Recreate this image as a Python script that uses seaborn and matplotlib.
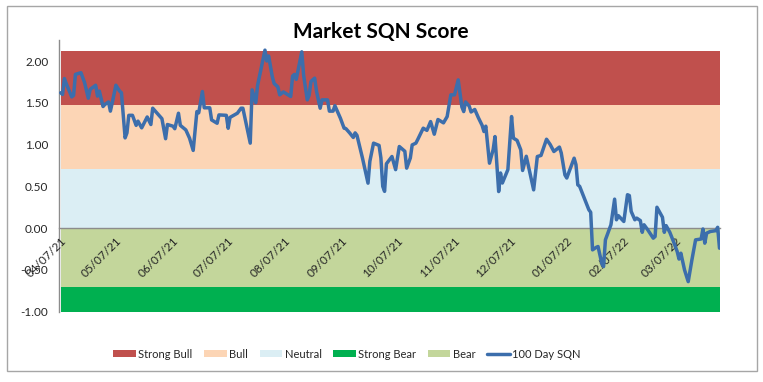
import matplotlib
matplotlib.use('Agg')
import matplotlib.pyplot as plt
import matplotlib.dates as mdates
from matplotlib.patches import Rectangle, Patch
from matplotlib.lines import Line2D
from matplotlib.ticker import FormatStrFormatter
import seaborn as sns
import pandas as pd
import numpy as np

sns.set_style('white')
plt.rcParams['font.family'] = ['Lato', 'DejaVu Sans']

# ---- data: 100 Day SQN, days of month and values per month ----
months = [(2021, 4), (2021, 5), (2021, 6), (2021, 7), (2021, 8), (2021, 9),
          (2021, 10), (2021, 11), (2021, 12), (2022, 1), (2022, 2), (2022, 3)]

days_apr21 = [7, 8, 9, 10, 13, 14, 15, 18, 20, 22, 23, 26, 27, 28, 30]
sqn_apr21 = [1.62, 1.60, 1.79, 1.73, 1.57, 1.59, 1.84, 1.86, 1.74, 1.555, 1.66, 1.71, 1.58, 1.64, 1.455]

days_may21 = [1, 3, 4, 5, 7, 9, 10, 12, 13, 14, 16, 18, 19, 21, 24, 26, 27, 30]
sqn_may21 = [1.48, 1.51, 1.40, 1.50, 1.71, 1.64, 1.62, 1.08, 1.14, 1.35, 1.35, 1.23, 1.28, 1.20, 1.33, 1.24, 1.435, 1.36]

days_jun21 = [1, 3, 4, 7, 8, 10, 11, 14, 16, 18, 20, 21, 23, 24, 27, 28]
sqn_jun21 = [1.31, 1.07, 1.24, 1.22, 1.19, 1.375, 1.23, 1.175, 1.077, 0.93, 1.395, 1.38, 1.635, 1.44, 1.44, 1.295]

days_jul21 = [1, 2, 6, 7, 8, 12, 14, 15, 19, 20, 22, 23, 27, 28, 29, 31]
sqn_jul21 = [1.255, 1.355, 1.35, 1.195, 1.325, 1.375, 1.435, 1.435, 1.017, 1.655, 1.50, 1.71, 2.13, 2.00, 2.06, 1.81]

days_aug21 = [1, 3, 4, 6, 10, 11, 12, 13, 16, 17, 19, 20, 21, 23, 24, 26, 27, 30, 31]
sqn_aug21 = [1.73, 1.69, 1.595, 1.63, 1.575, 1.82, 1.84, 1.78, 2.11, 1.83, 1.535, 1.59, 1.755, 1.795, 1.64, 1.435, 1.535, 1.535, 1.40]

days_sep21 = [2, 3, 6, 8, 9, 11, 13, 14, 15, 18, 21, 22, 24, 27, 28, 29, 30]
sqn_sep21 = [1.40, 1.465, 1.315, 1.196, 1.19, 1.14, 1.085, 1.14, 1.11, 0.837, 0.538, 0.80, 1.017, 0.99, 0.84, 0.50, 0.44]

days_oct21 = [1, 4, 6, 8, 11, 12, 14, 15, 17, 18, 21, 23, 25, 27, 29]
sqn_oct21 = [0.77, 0.857, 0.70, 0.977, 0.92, 0.718, 0.84, 0.996, 1.017, 1.06, 1.196, 1.17, 1.275, 1.124, 1.30]

days_nov21 = [1, 3, 5, 7, 9, 11, 12, 13, 15, 16, 18, 20, 22, 23, 24, 26, 28, 29]
sqn_nov21 = [1.26, 1.335, 1.595, 1.595, 1.774, 1.45, 1.395, 1.51, 1.46, 1.39, 1.42, 1.32, 1.23, 1.156, 1.22, 0.777, 0.94, 1.096]

days_dec21 = [1, 2, 3, 6, 8, 9, 11, 13, 14, 16, 20, 22, 24, 27, 29, 31]
sqn_dec21 = [0.438, 0.66, 0.54, 0.70, 1.335, 1.077, 1.05, 0.937, 0.69, 0.86, 0.458, 0.857, 0.87, 1.064, 1.00, 0.917]

days_jan22 = [3, 4, 6, 7, 11, 12, 13, 14, 19, 20, 21, 23, 24, 26, 27, 28, 31]
sqn_jan22 = [0.97, 0.90, 0.637, 0.60, 0.837, 0.76, 0.518, 0.50, 0.22, 0.19, -0.26, -0.23, -0.22, -0.42, -0.46, -0.14, 0.04]

days_feb22 = [2, 3, 4, 7, 9, 10, 11, 13, 14, 16, 17, 18, 20, 23, 24, 25, 28]
sqn_feb22 = [0.347, 0.10, 0.15, 0.08, 0.40, 0.39, 0.20, 0.10, 0.12, 0.09, -0.05, 0.04, -0.02, -0.12, -0.10, 0.25, 0.13]

days_mar22 = [1, 2, 4, 6, 8, 9, 10, 12, 14, 16, 18, 21, 22, 23, 24, 26, 29, 30, 31]
sqn_mar22 = [-0.05, 0.03, -0.05, -0.16, -0.28, -0.37, -0.30, -0.50, -0.64, -0.38, -0.14, -0.13, -0.01, -0.18, -0.06, -0.04, -0.03, 0.01, -0.24]

month_days = [days_apr21, days_may21, days_jun21, days_jul21, days_aug21, days_sep21,
              days_oct21, days_nov21, days_dec21, days_jan22, days_feb22, days_mar22]
month_sqn = [sqn_apr21, sqn_may21, sqn_jun21, sqn_jul21, sqn_aug21, sqn_sep21,
             sqn_oct21, sqn_nov21, sqn_dec21, sqn_jan22, sqn_feb22, sqn_mar22]

# ---- bands ----
band_names = ['Strong Bull', 'Bull', 'Neutral', 'Strong Bear', 'Bear']
band_low = [1.47, 0.71, 0.0, -1.0, -0.70]
band_high = [2.12, 1.47, 0.71, -0.70, 0.0]
band_colors = ['#C0504D', '#FCD5B5', '#DBEEF4', '#00B050', '#C3D69B']

line_name = '100 Day SQN'
line_color = '#3C6EAC'

tick_dates = ['2021-04-07', '2021-05-07', '2021-06-07', '2021-07-07', '2021-08-07',
              '2021-09-07', '2021-10-07', '2021-11-07', '2021-12-07', '2022-01-07',
              '2022-02-07', '2022-03-07']
y_ticks = [-1.0, -0.5, 0.0, 0.5, 1.0, 1.5, 2.0]
title = 'Market SQN Score'

# ---- build frame ----
rows = []
for (yr, mo), ds, vs in zip(months, month_days, month_sqn):
    assert len(ds) == len(vs)
    for d, v in zip(ds, vs):
        rows.append((pd.Timestamp(year=yr, month=mo, day=d), v))
df = pd.DataFrame(rows, columns=['date', 'sqn'])

fig = plt.figure(figsize=(7.63, 3.82), dpi=100)
fig.patch.set_facecolor('white')
ax = fig.add_axes([0.0769, 0.184, 0.8667, 0.711])
ax.set_axisbelow(False)

x0, x1 = df['date'].iloc[0], df['date'].iloc[-1]
for name, lo, hi, c in zip(band_names, band_low, band_high, band_colors):
    ax.fill_between([x0, x1], [lo, lo], [hi, hi], color=c, linewidth=0, zorder=1)

sns.lineplot(data=df, x='date', y='sqn', color=line_color, linewidth=2.5,
             ax=ax, legend=False, zorder=4)

ax.set_ylim(-1.0, 2.25)
ax.set_xlim(x0 - pd.Timedelta(days=1.1), x1 + pd.Timedelta(hours=6))
ax.set_yticks(y_ticks)
ax.yaxis.set_major_formatter(FormatStrFormatter('%.2f'))
ax.set_xticks(pd.to_datetime(tick_dates))
ax.xaxis.set_major_formatter(mdates.DateFormatter('%m/%d/%y'))
ax.set_xlabel('')
ax.set_ylabel('')
ax.xaxis.set_zorder(3.5)
ax.yaxis.set_zorder(3.5)

for s in ['top', 'right']:
    ax.spines[s].set_visible(False)
ax.spines['bottom'].set_position(('data', 0))
for s in ['left', 'bottom']:
    ax.spines[s].set_color('#8C8C8C')
    ax.spines[s].set_linewidth(1.0)
    ax.spines[s].set_zorder(3)

ax.tick_params(axis='both', which='major', direction='out', length=4, width=1,
               color='#8C8C8C', labelcolor='#262626', labelsize=8.5)
ax.tick_params(axis='x', pad=1)
for lab in ax.get_xticklabels():
    lab.set_rotation(45)
    lab.set_ha('right')
    lab.set_va('top')
    lab.set_rotation_mode('anchor')

fig.text(0.4987, 0.917, title, ha='center', va='center', fontsize=15,
         fontweight='bold', color='#000000')

handles = [Patch(facecolor=c, edgecolor='none', label=n) for n, c in zip(band_names, band_colors)]
handles.append(Line2D([0], [0], color=line_color, linewidth=2.5, label=line_name))
fig.legend(handles=handles, loc='center', bbox_to_anchor=(0.455, 0.073), ncol=6,
           frameon=False, fontsize=8, handlelength=2.0, handleheight=0.55,
           handletextpad=0.25, columnspacing=1.05, labelcolor='#262626')

fig.add_artist(Rectangle((7 / 763, 1 - 371 / 382), 750 / 763, 365 / 382,
                         transform=fig.transFigure, fill=False,
                         edgecolor='#A6A6A6', linewidth=1.0))

fig.savefig('out.png', dpi=100, facecolor='white')
